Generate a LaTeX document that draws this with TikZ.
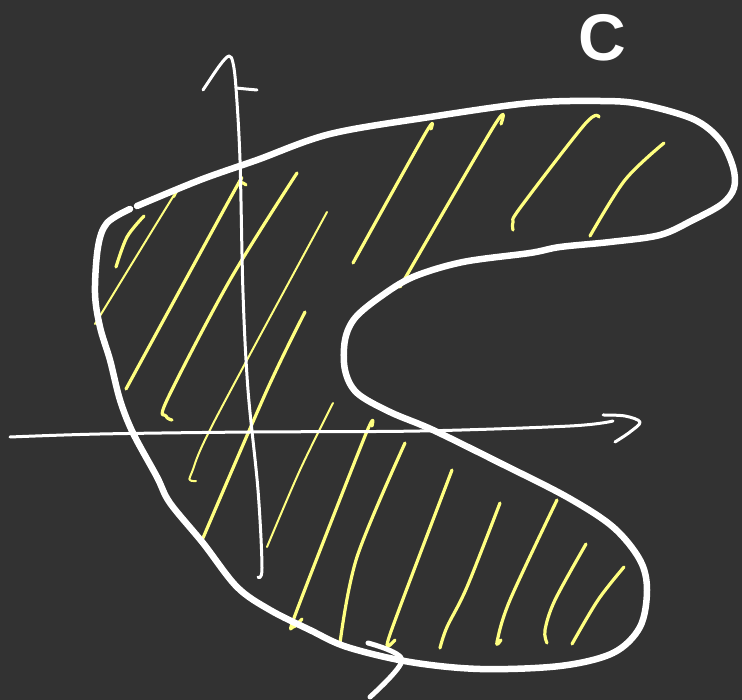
\documentclass[tikz,border=0pt]{standalone}
\usepackage{fontspec}
\setmainfont{Liberation Sans}
\definecolor{bgdark}{HTML}{323232}
\definecolor{hatchyellow}{HTML}{FFFF80}
\begin{document}
\begin{tikzpicture}[x=1pt,y=-1pt,
  outline/.style={draw=white,line width=6.5pt,line cap=round,line join=round},
  axisline/.style={draw=white,line width=3pt,line cap=round,line join=round},
  hatch/.style={draw=hatchyellow,line width=3.2pt,line cap=round,line join=round},
  thinhatch/.style={draw=hatchyellow,line width=2pt,line cap=round,line join=round},
  sm/.style={smooth,tension=0.55}]
\fill[bgdark] (0,0) rectangle (742,700);
\useasboundingbox (0,0) rectangle (742,700);

% hatching
\draw[hatch] plot[sm] coordinates {(144,216) (127,237) (116,267)};
\draw[thinhatch] plot[sm] coordinates {(174,197) (171,200) (95,324)};
\draw[hatch] plot[sm] coordinates {(246,185) (240,183) (232,195) (126,389)};
\draw[hatch] plot[sm] coordinates {(297,173) (230,280) (167,400) (166,416) (172,420)};
\draw[thinhatch] plot[sm] coordinates {(327,212) (215,420) (192,472) (190,480) (196,481)};
\draw[hatch] plot[sm] coordinates {(305,312) (267,390) (203,538)};
\draw[thinhatch] plot[sm] coordinates {(333,403) (300,470) (267,547)};
\draw[hatch] plot[sm] coordinates {(372,426) (365,436) (297,610) (293,627) (302,619)};
\draw[hatch] plot[sm] coordinates {(405,443) (357,557) (340,643)};
\draw[hatch] plot[sm] coordinates {(452,470) (400,607) (387,645) (395,640)};
\draw[hatch] plot[sm] coordinates {(500,503) (467,587) (447,627) (440,648)};
\draw[hatch] plot[sm] coordinates {(557,500) (510,600) (497,642) (501,640)};
\draw[hatch] plot[sm] coordinates {(586,544) (555,600) (545,630) (547,643)};
\draw[hatch] plot[sm] coordinates {(624,567) (598,600) (572,644)};
\draw[hatch] plot[sm] coordinates {(431,129) (425,134) (353,263)};
\draw[hatch] plot[sm] coordinates {(501,124) (494,126) (400,287)};
\draw[hatch] plot[sm] coordinates {(599,117) (585,124) (520,208) (513,222) (513,230)};
\draw[hatch] plot[sm] coordinates {(664,143) (625,180) (590,236)};

% axes
\draw[axisline] plot[sm] coordinates {(10,437) (100,434) (250,432) (420,431) (570,426) (613,421)};
\draw[axisline] plot[sm] coordinates {(603,415) (625,416) (640,422) (630,432) (615,442)};
\draw[axisline] plot[sm] coordinates {(258,577) (262,568) (258,490) (248,390) (243,293) (240,160) (236,88) (233,63) (229,56) (220,65) (203,90)};
\draw[axisline] plot[sm] coordinates {(236,88) (246,89) (257,90)};

% region boundary
\draw[outline] plot[sm] coordinates {(137,206) (200,180) (257,160) (330,134) (430,117) (530,103) (600,101) (640,104) (693,119) (720,140) (733,167) (734,188) (722,204) (693,220) (660,235) (610,242) (560,247) (530,253) (463,262) (413,277) (380,297) (355,318) (345,340) (345,370) (357,393) (390,412) (433,430) (500,463) (567,497) (613,527) (640,560) (647,590) (640,627) (613,653) (560,666) (480,669) (410,662) (347,647) (310,630) (270,610) (237,587) (203,543) (170,503) (157,477) (133,433) (120,400) (110,360) (100,327) (95,293) (98,247) (107,223) (130,209)};

% orientation arrow
\draw[outline,line width=5pt] plot[sm] coordinates {(368,643) (402,660) (370,697)};

% label
\node[text=white,font=\bfseries\fontsize{66}{66}\selectfont,inner sep=0pt] (lblC) at (602,38) {C};
\end{tikzpicture}
\end{document}
